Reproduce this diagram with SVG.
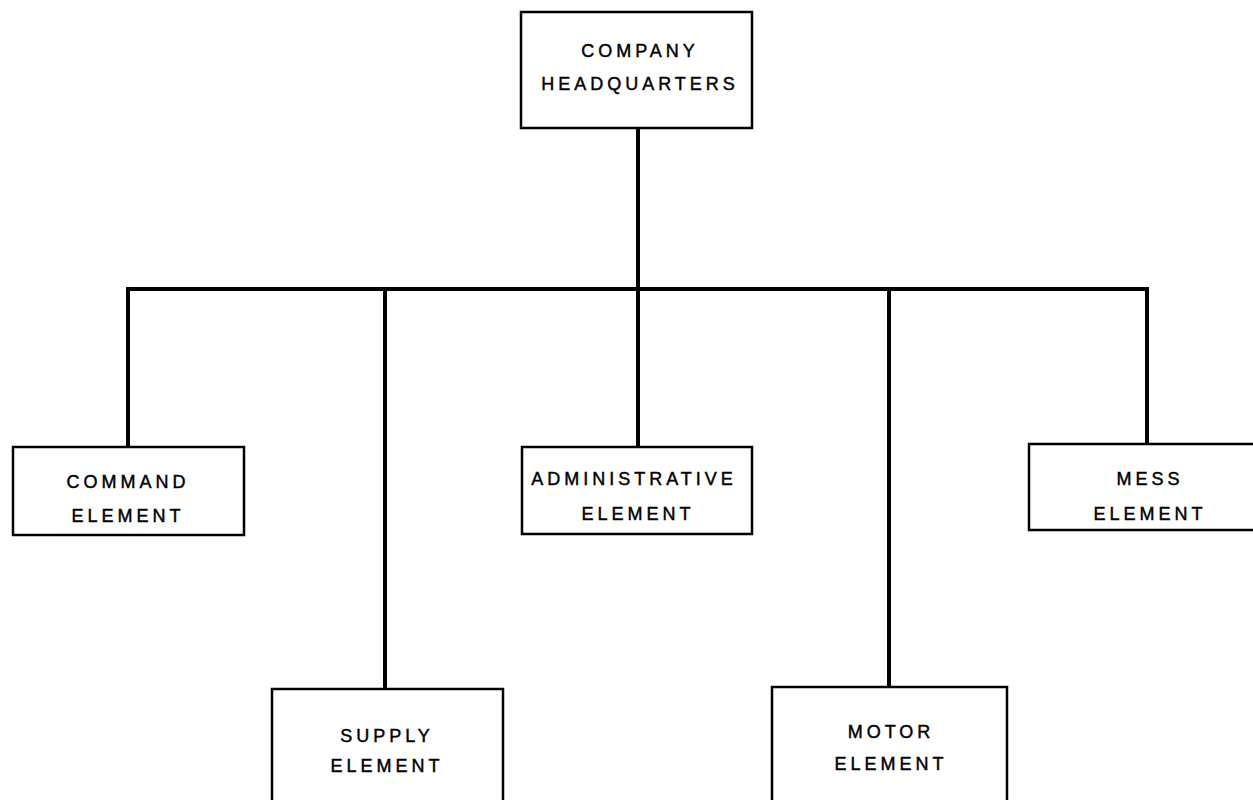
<svg xmlns="http://www.w3.org/2000/svg" width="1253" height="800" viewBox="0 0 1253 800">
<style>
.box{fill:#fff;stroke:#000;stroke-width:2.5}
.lbl{font-family:"Liberation Sans","DejaVu Sans",sans-serif;font-size:18px;letter-spacing:4px;fill:#000;stroke:#000;stroke-width:0.45;text-anchor:middle}
.conn{fill:none;stroke:#000;stroke-width:4;stroke-linejoin:miter}
</style>
<rect width="1253" height="800" fill="#fff"/>
<g id="connectors">
<path class="conn" d="M638,128 V289"/>
<path class="conn" d="M128,447 V289 H1147 V444"/>
<path class="conn" d="M385,289 V689"/>
<path class="conn" d="M638,289 V447"/>
<path class="conn" d="M889,289 V687"/>
</g>
<g id="hq">
<rect class="box" x="521" y="12" width="231" height="116"/>
<text class="lbl" x="640" y="57">COMPANY</text>
<text class="lbl" x="640" y="90">HEADQUARTERS</text>
</g>
<g id="command">
<rect class="box" x="13" y="447" width="231" height="88"/>
<text class="lbl" x="128" y="488">COMMAND</text>
<text class="lbl" x="128" y="522">ELEMENT</text>
</g>
<g id="administrative">
<rect class="box" x="522" y="447" width="230" height="87"/>
<text class="lbl" x="634" y="485">ADMINISTRATIVE</text>
<text class="lbl" x="638" y="520">ELEMENT</text>
</g>
<g id="mess">
<rect class="box" x="1029" y="444" width="240" height="86"/>
<text class="lbl" x="1150" y="485">MESS</text>
<text class="lbl" x="1150" y="520">ELEMENT</text>
</g>
<g id="supply">
<rect class="box" x="272" y="689" width="231" height="130"/>
<text class="lbl" x="387" y="742">SUPPLY</text>
<text class="lbl" x="387" y="772">ELEMENT</text>
</g>
<g id="motor">
<rect class="box" x="772" y="687" width="235" height="130"/>
<text class="lbl" x="891" y="738">MOTOR</text>
<text class="lbl" x="891" y="770">ELEMENT</text>
</g>
</svg>
